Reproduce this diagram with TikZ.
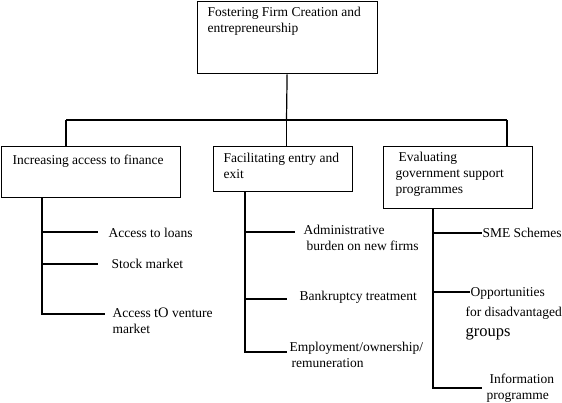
\documentclass[tikz,border=0pt]{standalone}
\usepackage{fontspec}
\setmainfont{Liberation Serif}
\newfontfamily\tnr{Liberation Serif}
\begin{document}
\begin{tikzpicture}[x=1pt,y=-1pt,line width=1.2pt,
  box/.style={draw,line width=1.2pt,inner sep=0pt,anchor=north west},
  txt/.style={inner sep=0pt,anchor=north west,align=left,font=\tnr\fontsize{13.5}{16}\selectfont},
  leaf/.style={inner sep=0pt,anchor=west,font=\tnr\fontsize{13.5}{16}\selectfont},
  leafm/.style={inner sep=0pt,anchor=north west,align=left,font=\tnr\fontsize{13.5}{16}\selectfont}]
\useasboundingbox (0,0) rectangle (562,403);
% boxes
\node[box,minimum width=180pt,minimum height=72.5pt] (top) at (196.5,0.7) {};
\node[box,minimum width=179pt,minimum height=51pt] (b1) at (0.7,146) {};
\node[box,minimum width=139pt,minimum height=45pt] (b2) at (213,146) {};
\node[box,minimum width=149pt,minimum height=62pt] (b3) at (383,146) {};
% box texts
\node[txt] (ttop) at (207,7) {Fostering Firm Creation and\\entrepreneurship};
\node[txt] (t1) at (12,154) {Increasing access to finance};
\node[txt] (t2) at (223,153) {Facilitating entry and\\exit};
\node[txt] (t3) at (395,152) {\hspace{3pt}Evaluating\\government support\\programmes};
% top connectors
\coordinate (hub) at (286.5,120);
\coordinate (j1) at (66,120);
\coordinate (j3) at (507,120);
\draw (top.south) -- (hub);
\draw (j1) -- (j3);
\draw (j1) -- (j1 |- b1.north);
\draw (hub) -- (hub |- b2.north);
\draw (j3) -- (j3 |- b3.north);
% branch 1
\coordinate (s1) at (42,0);
\coordinate (e11) at (98,232);
\coordinate (e12) at (98,264);
\coordinate (e13) at (105,314);
\draw (s1 |- b1.south) |- (e11);
\draw (s1 |- b1.south) |- (e12);
\draw (s1 |- b1.south) |- (e13);
\node[leaf] (l11) at (108,233) {Access to loans};
\node[leaf] (l12) at (111,264) {Stock market};
\node[leafm] (l13) at (112,307) {Access {\fontsize{14.5}{16}\selectfont tO} venture\\market};
% branch 2
\coordinate (s2) at (245,0);
\coordinate (e21) at (295,232);
\coordinate (e22) at (287,299);
\coordinate (e23) at (287,352);
\draw (s2 |- b2.south) |- (e21);
\draw (s2 |- b2.south) |- (e22);
\draw (s2 |- b2.south) |- (e23);
\node[leafm] (l21) at (303,225) {Administrative\\\hspace{3pt}burden on new firms};
\node[leaf] (l22) at (299,297) {Bankruptcy treatment};
\node[leafm] (l23) at (289,342) {Employment/ownership/\\\hspace{2pt}remuneration};
% branch 3
\coordinate (s3) at (433,0);
\coordinate (e31) at (482,233);
\coordinate (e32) at (470,292);
\coordinate (e33) at (482,388);
\draw (s3 |- b3.south) |- (e31);
\draw (s3 |- b3.south) |- (e32);
\draw (s3 |- b3.south) |- (e33);
\node[leaf] (l31) at (482,233) {SME Schemes};
\node[leafm,font=\tnr\fontsize{13.5}{20}\selectfont] (l32) at (465,287) {\hspace{5pt}Opportunities\\for disadvantaged\\{\fontsize{16.5}{20}\selectfont groups}};
\node[leafm] (l33) at (486,373) {\hspace{3pt}Information\\programme};
\end{tikzpicture}
\end{document}
